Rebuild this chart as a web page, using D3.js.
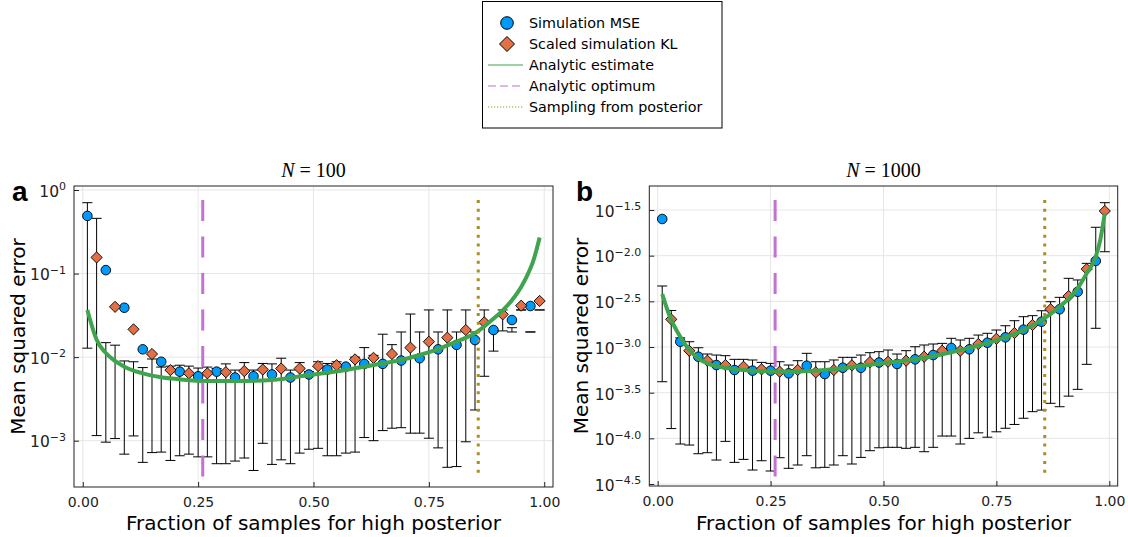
<!DOCTYPE html>
<html lang="en">
<head>
<meta charset="UTF-8">
<title>Mean squared error vs fraction of samples</title>
<script src="https://d3js.org/d3.v7.min.js"></script>
<style>
  body { margin: 0; background: #fff; }
  svg { display: block; font-family: "DejaVu Sans", sans-serif; }
</style>
</head>
<body>
<svg id="chart" width="1128" height="537"></svg>
<script>
// fractions at which each simulated series was evaluated
const mseFrac = [0.01, 0.05, 0.09, 0.13, 0.17, 0.21, 0.25, 0.29, 0.33, 0.37, 0.41, 0.45, 0.49,
                 0.53, 0.57, 0.61, 0.65, 0.69, 0.73, 0.77, 0.81, 0.85, 0.89, 0.93, 0.97];
const klFrac  = [0.03, 0.07, 0.11, 0.15, 0.19, 0.23, 0.27, 0.31, 0.35, 0.39, 0.43, 0.47, 0.51,
                 0.55, 0.59, 0.63, 0.67, 0.71, 0.75, 0.79, 0.83, 0.87, 0.91, 0.95, 0.99];

// N = 100
const mse100   = [0.49, 0.11, 0.039, 0.0124, 0.0088, 0.0067, 0.0059, 0.0067, 0.0057, 0.0059, 0.0062, 0.0057, 0.0062,
                  0.0071, 0.0077, 0.0083, 0.0083, 0.0091, 0.0097, 0.0124, 0.0140, 0.0160, 0.0211, 0.0278, 0.0409];
const mse100Lo = [0.0128, 0.00096, 0.00069, 0.00055, 0.00073, 0.00066, 0.00064, 0.00053, 0.00057, 0.00044, 0.00052, 0.00053, 0.00079,
                  0.00066, 0.00071, 0.00109, 0.00132, 0.00143, 0.00123, 0.00082, 0.00049, 0.00233, 0.0118, 0.0200, 0.0200];
const mse100Hi = [0.705, 0.0149, 0.0090, 0.0075, 0.0076, 0.0080, 0.0074, 0.0073, 0.0070, 0.0070, 0.0083, 0.0070, 0.0067,
                  0.0084, 0.0080, 0.0130, 0.0188, 0.0200, 0.0200, 0.0200, 0.0200, 0.0200, 0.0200, 0.0225, 0.0200];
const kl100    = [0.156, 0.040, 0.0215, 0.0109, 0.0070, 0.0064, 0.0064, 0.0066, 0.0068, 0.0071, 0.0073, 0.0073, 0.0078,
                  0.0080, 0.0094, 0.0098, 0.0109, 0.0130, 0.0153, 0.0171, 0.0211, 0.0261, 0.0325, 0.0413, 0.0470];
const kl100Lo  = [0.00115, 0.00106, 0.00114, 0.00072, 0.00058, 0.00069, 0.00064, 0.00053, 0.00062, 0.00093, 0.00059, 0.00071, 0.00081,
                  0.00066, 0.00073, 0.00100, 0.00141, 0.00123, 0.00107, 0.00048, 0.00097, 0.0059, 0.0206, 0.0367, 0.0367];
const kl100Hi  = [0.458, 0.0139, 0.0088, 0.0095, 0.0078, 0.0078, 0.0076, 0.0083, 0.0086, 0.0084, 0.0097, 0.0086, 0.0088,
                  0.0088, 0.0100, 0.0105, 0.0141, 0.0328, 0.0367, 0.0367, 0.0367, 0.0367, 0.0367, 0.0367, 0.0367];
const est100X  = [0.01, 0.016, 0.03, 0.05, 0.07, 0.09, 0.13, 0.17, 0.21, 0.27, 0.33, 0.41, 0.49, 0.57, 0.61,
                  0.65, 0.69, 0.73, 0.77, 0.81, 0.85, 0.89, 0.91, 0.93, 0.95, 0.965, 0.975, 0.983, 0.99];
const est100Y  = [0.0367, 0.0278, 0.0161, 0.0112, 0.0090, 0.00768, 0.0064, 0.00574, 0.00543, 0.00518, 0.00518, 0.00532, 0.00611, 0.00702, 0.00768,
                  0.00844, 0.00924, 0.0106, 0.0125, 0.0153, 0.0193, 0.0288, 0.0363, 0.0479, 0.0692, 0.100, 0.135, 0.19, 0.27];
const vspan100 = [0.00036, 0.76];

// N = 1000
const mse1000   = [0.0252, 0.001143, 0.000783, 0.000635, 0.000560, 0.000551, 0.000551, 0.000515, 0.000624, 0.000506, 0.000593, 0.000593, 0.000676,
                   0.000652, 0.000733, 0.000817, 0.000977, 0.000944, 0.001114, 0.001276, 0.001549, 0.001892, 0.002588, 0.004027, 0.00875];
const mse1000Lo = [0.000417, 0.0000867, 0.0000679, 0.0000579, 0.0000546, 0.0000450, 0.0000439, 0.0000470, 0.0000646, 0.0000482, 0.0000646, 0.0000619, 0.0000789,
                   0.0000798, 0.0000798, 0.0000798, 0.000106, 0.000100, 0.000103, 0.000129, 0.000166, 0.000204, 0.000222, 0.000344, 0.001603];
const mse1000Hi = [0.004656, 0.001259, 0.000982, 0.000817, 0.000733, 0.000721, 0.000662, 0.000635, 0.000853, 0.000690, 0.000771, 0.000817, 0.000889,
                   0.000838, 0.001007, 0.001079, 0.001245, 0.001245, 0.001413, 0.00171, 0.002148, 0.002495, 0.003499, 0.00542, 0.02046];
const kl1000    = [0.002009, 0.000910, 0.000708, 0.000635, 0.000608, 0.000570, 0.000537, 0.000560, 0.000528, 0.000560, 0.000631, 0.000684, 0.000690,
                   0.000708, 0.000783, 0.000910, 0.000910, 0.001079, 0.001230, 0.001422, 0.001742, 0.002588, 0.003614, 0.007145, 0.03083];
const kl1000Lo  = [0.000128, 0.0000845, 0.0000697, 0.0000927, 0.0000589, 0.0000569, 0.0000614, 0.0000511, 0.0000476, 0.0000511, 0.0000524, 0.0000733, 0.0000798,
                   0.0000778, 0.0000714, 0.000106, 0.0000867, 0.000115, 0.000118, 0.000142, 0.000196, 0.000242, 0.000290, 0.000646, 0.01104];
const kl1000Hi  = [0.002512, 0.001143, 0.000838, 0.000804, 0.000733, 0.000679, 0.000690, 0.000708, 0.000690, 0.000721, 0.000771, 0.000867, 0.000927,
                   0.000912, 0.001052, 0.001096, 0.001194, 0.001352, 0.001535, 0.001941, 0.002203, 0.003133, 0.005649, 0.008241, 0.03802];
const est1000X  = [0.01, 0.027, 0.05, 0.07, 0.09, 0.11, 0.13, 0.17, 0.21, 0.25, 0.29, 0.33, 0.37, 0.41,
                   0.45, 0.49, 0.57, 0.65, 0.71, 0.77, 0.81, 0.85, 0.89, 0.93, 0.95, 0.97, 0.98, 0.99];
const est1000Y  = [0.003802, 0.002148, 0.001297, 0.000927, 0.000752, 0.000662, 0.000619, 0.000574, 0.000551, 0.000542, 0.000537, 0.000546, 0.000560, 0.000585,
                   0.000619, 0.000661, 0.000733, 0.000877, 0.001035, 0.001276, 0.001535, 0.001972, 0.002761, 0.004395, 0.006412, 0.00975, 0.01486, 0.02911];
const vspan1000 = [0.0000368, 0.0407];

const optimumFrac = 0.26;
const posteriorFrac = 0.857;

const xTicks = [0, 0.25, 0.5, 0.75, 1];
const yTickExp100 = [0, -1, -2, -3];
const yTickExp1000 = [-1.5, -2, -2.5, -3, -3.5, -4, -4.5];

const legendNames = ["Simulation MSE", "Scaled simulation KL", "Analytic estimate", "Analytic optimum", "Sampling from posterior"];

const C = { mse: "#009AFA", kl: "#E36F47", est: "#3EA44E", opt: "#C371D2", post: "#AC8E18" };

const svg = d3.select("#chart");
const diamond = h => `M0,${-h}L${h},0L0,${h}L${-h},0Z`;

const panels = [
  { tag: "a", n: "100", left: 74, right: 553, top: 186, bottom: 487, tagX: 12, ylabX: 25,
    xDomain: [-0.019, 1.019], yDomain: [0.000279, 1.117],
    yExp: yTickExp100, expFmt: d3.format("d"),
    mse: [mse100, mse100Lo, mse100Hi], kl: [kl100, kl100Lo, kl100Hi],
    estX: est100X, estY: est100Y, vspan: vspan100 },
  { tag: "b", n: "1000", left: 649.3, right: 1117.7, top: 186, bottom: 486, tagX: 576, ylabX: 588,
    xDomain: [-0.0186, 1.0186], yDomain: [0.0000301, 0.0579],
    yExp: yTickExp1000, expFmt: d3.format(".1f"),
    mse: [mse1000, mse1000Lo, mse1000Hi], kl: [kl1000, kl1000Lo, kl1000Hi],
    estX: est1000X, estY: est1000Y, vspan: vspan1000 }
];

panels.forEach((p, pi) => {
  const x = d3.scaleLinear().domain(p.xDomain).range([p.left, p.right]);
  const y = d3.scaleLog().domain(p.yDomain).range([p.bottom, p.top]);
  const yTickVals = p.yExp.map(e => Math.pow(10, e));
  const g = svg.append("g");

  // grid
  g.append("g").selectAll("line").data(xTicks).join("line")
    .attr("x1", d => x(d)).attr("x2", d => x(d)).attr("y1", p.top).attr("y2", p.bottom)
    .attr("stroke", "#e6e6e6").attr("stroke-width", 1);
  g.append("g").selectAll("line").data(yTickVals).join("line")
    .attr("x1", p.left).attr("x2", p.right).attr("y1", d => y(d)).attr("y2", d => y(d))
    .attr("stroke", "#e6e6e6").attr("stroke-width", 1);

  // axes (ticks point inward)
  const xa = g.append("g").attr("transform", `translate(0,${p.bottom})`)
    .call(d3.axisBottom(x).tickValues(xTicks).tickFormat(d3.format(".2f")).tickSize(-5).tickPadding(10));
  const ya = g.append("g").attr("transform", `translate(${p.left},0)`)
    .call(d3.axisLeft(y).tickValues(yTickVals).tickSize(-5).tickPadding(8));
  [xa, ya].forEach(a => {
    a.attr("font-family", null).attr("font-size", null).style("font-size", "14px").attr("color", "#222");
    a.select(".domain").remove();
  });
  ya.selectAll(".tick text").each(function(d, i) {
    const t = d3.select(this).text(null).attr("dy", "0.45em");
    t.append("tspan").style("font-size", "15.5px").text("10");
    t.append("tspan").attr("dy", "-0.6em").style("font-size", "11px")
      .text(p.expFmt(p.yExp[i]).replace("-", "\u2212"));
  });

  // frame
  g.append("rect").attr("x", p.left).attr("y", p.top)
    .attr("width", p.right - p.left).attr("height", p.bottom - p.top)
    .attr("fill", "none").attr("stroke", "#222").attr("stroke-width", 1);

  const clipId = "clip" + pi;
  svg.append("clipPath").attr("id", clipId).append("rect")
    .attr("x", p.left).attr("y", p.top).attr("width", p.right - p.left).attr("height", p.bottom - p.top);
  const plot = g.append("g").attr("clip-path", `url(#${clipId})`);

  const series = (fr, arr) => fr.map((f, i) => ({ f, v: arr[0][i], lo: arr[1][i], hi: arr[2][i] }));
  const drawBars = data => {
    const eb = plot.append("g").attr("stroke", "#000").attr("stroke-width", 1);
    eb.selectAll(".v").data(data).join("line")
      .attr("x1", d => x(d.f)).attr("x2", d => x(d.f)).attr("y1", d => y(d.lo)).attr("y2", d => y(d.hi));
    ["lo", "hi"].forEach(k => {
      eb.selectAll(".c" + k).data(data).join("line")
        .attr("x1", d => x(d.f) - 5).attr("x2", d => x(d.f) + 5)
        .attr("y1", d => y(d[k])).attr("y2", d => y(d[k]));
    });
  };

  const mseData = series(mseFrac, p.mse);
  const klData = series(klFrac, p.kl);

  drawBars(mseData);
  plot.append("g").selectAll("circle").data(mseData).join("circle")
    .attr("cx", d => x(d.f)).attr("cy", d => y(d.v)).attr("r", 4.8)
    .attr("fill", C.mse).attr("stroke", "#000").attr("stroke-width", 0.9);

  drawBars(klData);
  plot.append("g").selectAll("path").data(klData).join("path")
    .attr("transform", d => `translate(${x(d.f)},${y(d.v)})`).attr("d", diamond(5.6))
    .attr("fill", C.kl).attr("stroke", "#000").attr("stroke-width", 0.9);

  // analytic estimate
  const estData = p.estX.map((f, i) => ({ f, v: p.estY[i] }));
  plot.append("path").datum(estData)
    .attr("d", d3.line().x(d => x(d.f)).y(d => y(d.v)).curve(d3.curveMonotoneX))
    .attr("fill", "none").attr("stroke", C.est).attr("stroke-width", 4);

  // vertical markers
  plot.append("line").attr("x1", x(optimumFrac)).attr("x2", x(optimumFrac))
    .attr("y1", y(p.vspan[1])).attr("y2", y(p.vspan[0]))
    .attr("stroke", C.opt).attr("stroke-width", 3).attr("stroke-dasharray", "21,15.5");
  plot.append("line").attr("x1", x(posteriorFrac)).attr("x2", x(posteriorFrac))
    .attr("y1", y(p.vspan[1])).attr("y2", y(p.vspan[0]))
    .attr("stroke", C.post).attr("stroke-width", 3).attr("stroke-dasharray", "3,5.7");

  // titles and labels
  const cx = (p.left + p.right) / 2;
  const title = svg.append("text").attr("x", cx).attr("y", 177).attr("text-anchor", "middle")
    .style("font-family", "'Liberation Serif', serif").style("font-size", "20px");
  title.append("tspan").style("font-style", "italic").text("N");
  title.append("tspan").text(" = " + p.n);

  svg.append("text").attr("x", p.tagX).attr("y", 201)
    .style("font-family", "'Liberation Sans', Arial, sans-serif").style("font-weight", "bold").style("font-size", "28px")
    .text(p.tag);

  svg.append("text").attr("x", cx).attr("y", 530).attr("text-anchor", "middle")
    .style("font-size", "20px").attr("fill", "#000").text("Fraction of samples for high posterior");
  svg.append("text").attr("transform", `translate(${p.ylabX},${(p.top + p.bottom) / 2}) rotate(-90)`)
    .attr("text-anchor", "middle").style("font-size", "20px").text("Mean squared error");
});

// legend
const lg = svg.append("g");
lg.append("rect").attr("x", 482.5).attr("y", 1.5).attr("width", 239.5).attr("height", 126.5)
  .attr("fill", "#fff").attr("stroke", "#000").attr("stroke-width", 1);
const rowY = i => 23 + i * 21;
lg.selectAll("text").data(legendNames).join("text")
  .attr("x", 529).attr("y", (d, i) => rowY(i)).attr("dy", "0.35em")
  .style("font-size", "14.3px").text(d => d);
lg.append("circle").attr("cx", 507).attr("cy", rowY(0)).attr("r", 6.3)
  .attr("fill", C.mse).attr("stroke", "#000").attr("stroke-width", 1);
lg.append("path").attr("transform", `translate(507,${rowY(1)})`).attr("d", diamond(7.5))
  .attr("fill", C.kl).attr("stroke", "#000").attr("stroke-width", 1);
lg.append("line").attr("x1", 488).attr("x2", 523).attr("y1", rowY(2)).attr("y2", rowY(2))
  .attr("stroke", C.est).attr("stroke-width", 1.2);
lg.append("line").attr("x1", 488).attr("x2", 523).attr("y1", rowY(3)).attr("y2", rowY(3))
  .attr("stroke", C.opt).attr("stroke-width", 1.2).attr("stroke-dasharray", "8,4");
lg.append("line").attr("x1", 488).attr("x2", 523).attr("y1", rowY(4)).attr("y2", rowY(4))
  .attr("stroke", C.post).attr("stroke-width", 1.2).attr("stroke-dasharray", "1.2,1.8");
</script>
</body>
</html>
